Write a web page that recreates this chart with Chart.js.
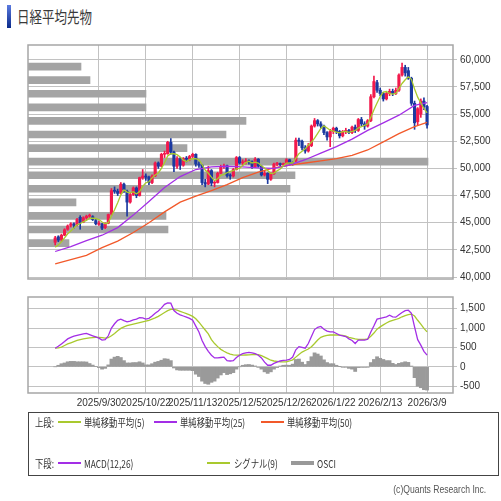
<!DOCTYPE html>
<html>
<head>
<meta charset="utf-8">
<title>日経平均先物</title>
<script src="https://cdn.jsdelivr.net/npm/chart.js@4.4.1/dist/chart.umd.min.js"></script>
<style>
  body { margin: 0; background: #fff; }
  #wrap { position: relative; width: 501px; height: 501px; overflow: hidden; font-family: "Noto Sans CJK JP", sans-serif; color: #333; }
  #wrap canvas { position: absolute; left: 0; }
  .mark { position: absolute; left: 7px; top: 5px; width: 4px; height: 23px; background: linear-gradient(#5b7be0, #0a2a8a); }
  .title { position: absolute; left: 17px; top: 3px; font-size: 16px; line-height: 26px; color: #3a3a3a; transform: scaleX(0.78); transform-origin: left center; white-space: nowrap; }
  .legend { position: absolute; left: 28px; top: 412px; width: 471px; height: 64px; box-sizing: border-box; border: 1.5px solid #444; }
  .lg { position: absolute; font-size: 11px; line-height: 14px; white-space: nowrap; transform: scaleX(0.76); transform-origin: left center; color: #333; }
  .sw { position: absolute; width: 23px; height: 2px; }
  .copy { position: absolute; right: 15px; top: 482px; font: 11px/14px "Liberation Sans", Arial, sans-serif; color: #555; white-space: nowrap; transform: scaleX(0.78); transform-origin: right center; }
</style>
</head>
<body>
<div id="wrap">
  <div class="mark"></div>
  <div class="title">日経平均先物</div>

  <canvas id="price" width="501" height="252" style="top:36px"></canvas>
  <canvas id="macd" width="501" height="125" style="top:288px"></canvas>

  <div class="legend"></div>
  <div class="lg" style="left:35px;top:415px">上段:</div>
  <div class="sw" style="left:58px;top:421px;background:#a9c92e"></div>
  <div class="lg" style="left:84px;top:415px">単純移動平均(5)</div>
  <div class="sw" style="left:154px;top:421px;background:#a32ee6"></div>
  <div class="lg" style="left:180px;top:415px">単純移動平均(25)</div>
  <div class="sw" style="left:261px;top:421px;background:#f2592a"></div>
  <div class="lg" style="left:287px;top:415px">単純移動平均(50)</div>

  <div class="lg" style="left:35px;top:456px">下段:</div>
  <div class="sw" style="left:58px;top:462px;background:#a32ee6"></div>
  <div class="lg" style="left:84px;top:456px">MACD(12,26)</div>
  <div class="sw" style="left:207px;top:462px;background:#a9c92e"></div>
  <div class="lg" style="left:234px;top:456px">シグナル(9)</div>
  <div class="sw" style="left:291px;top:461px;height:4px;background:#999"></div>
  <div class="lg" style="left:317px;top:456px">OSCI</div>

  <div class="copy">(c)Quants Research Inc.</div>
</div>

<script>
// 日足 index 0 = 2025/9/8 ... index 119 = 2026/3/9
const opens = [
  43200, 43700, 43450, 43850, 44400, 44750, 44900, 44800, 45500, 45050,
  45450, 45600, 45550, 45200, 44850, 44900, 44550, 44950, 45800, 47950,
  47900, 47700, 48550, 47900, 46900, 47600, 48200, 47500, 49150, 49300,
  49200, 48700, 49300, 50500, 50200, 51300, 51350, 52400, 51500, 50200,
  50900, 50300, 50900, 50850, 51100, 51300, 50400, 50300, 48700, 48550,
  49800, 48650, 48700, 49550, 50150, 50250, 49350, 49300, 49900, 51000,
  50500, 50600, 50650, 50600, 50150, 50850, 50200, 49400, 49550, 49000,
  49500, 50400, 50450, 50350, 50450, 50800, 50500, 50700, 52600, 52500,
  51900, 51600, 52100, 53900, 54400, 54100, 53900, 53300, 52900, 53400,
  53700, 53400, 53000, 53400, 53500, 53300, 53800, 53500, 54500, 54100,
  53900, 54400, 56600, 57900, 57200, 56900, 56400, 56900, 57100, 56900,
  57200, 58600, 59300, 59000, 58300, 56000, 54300, 55000, 56200, 55700
];
const highs = [
  43750, 43800, 43950, 44450, 44800, 45000, 45000, 45400, 45650, 45550,
  45700, 45800, 45650, 45300, 45150, 44950, 45000, 45800, 48150, 48300,
  48100, 48700, 48650, 48000, 47700, 48300, 48300, 49200, 49900, 49500,
  49300, 49400, 50600, 50600, 51400, 51600, 52500, 52750, 51600, 51100,
  51000, 51000, 51100, 51200, 51400, 51350, 50600, 50350, 49000, 50200,
  49900, 48900, 49650, 50300, 50400, 50300, 49500, 50000, 51100, 51100,
  50800, 50900, 50800, 50700, 51000, 50900, 50250, 49800, 49600, 49600,
  50500, 50550, 50500, 50500, 50900, 50850, 50600, 52800, 52800, 52600,
  52100, 52300, 54000, 54600, 54500, 54300, 54000, 53400, 53600, 53800,
  53800, 53500, 53500, 53700, 53600, 53900, 54000, 54600, 54700, 54300,
  54500, 56800, 58500, 58100, 57400, 57000, 57000, 57300, 57300, 57400,
  58700, 59700, 59500, 59300, 58400, 56200, 55600, 56400, 56500, 55800
];
const lows = [
  42950, 43250, 43300, 43800, 44300, 44600, 44500, 44700, 44400, 45000,
  45300, 45450, 45200, 44800, 44750, 44350, 44450, 44900, 45700, 47700,
  47500, 47650, 47800, 45600, 46800, 47500, 47300, 47450, 49000, 48900,
  48500, 48600, 49250, 50000, 50150, 51000, 51300, 51300, 49700, 50000,
  49900, 50200, 50600, 50700, 51000, 50200, 50100, 48500, 48300, 48500,
  48400, 48300, 48650, 49500, 50000, 49200, 49000, 49200, 49850, 50400,
  50300, 50400, 50400, 50000, 50100, 50100, 49300, 49300, 48600, 48900,
  49450, 50250, 50200, 50300, 50400, 50400, 50300, 50600, 52100, 51700,
  51400, 51500, 52000, 53800, 53900, 53700, 53100, 52600, 52000, 53200,
  53200, 52800, 52900, 53200, 53200, 53200, 53300, 53400, 53900, 53600,
  53800, 54300, 56500, 57000, 56700, 56200, 56300, 56700, 56700, 56800,
  57100, 58500, 58500, 58200, 55800, 53600, 54000, 54700, 55400, 53700
];
const closes = [
  43600, 43400, 43850, 44350, 44700, 44900, 44750, 45300, 45000, 45450,
  45600, 45700, 45300, 44900, 44950, 44500, 44900, 45750, 47950, 47900,
  47700, 48550, 48050, 46900, 47600, 48200, 47500, 49150, 49300, 49200,
  48700, 49300, 50500, 50200, 51300, 51350, 52400, 51500, 50200, 50900,
  50300, 50900, 50850, 51100, 51300, 50400, 50300, 48700, 48550, 49800,
  48650, 48700, 49550, 50150, 50250, 49350, 49300, 49900, 51000, 50500,
  50600, 50650, 50600, 50150, 50850, 50200, 49400, 49550, 49000, 49500,
  50400, 50450, 50350, 50450, 50800, 50500, 50400, 52600, 52500, 51900,
  51600, 52100, 53900, 54400, 54100, 53900, 53300, 52900, 53400, 53700,
  53400, 53000, 53400, 53500, 53300, 53800, 53500, 54500, 54100, 53900,
  54400, 56600, 58000, 57200, 56900, 56400, 56900, 57100, 56900, 57200,
  58600, 59300, 58800, 58300, 56000, 54200, 55500, 56200, 55700, 54000
];

// 5日線は終値から、最初の4本だけ図から読んだ値
const ma5Head = [42750, 42950, 43250, 43600];
// 25日線・50日線は図から読んだ値 (maIdx の位置)
const maIdx = [0, 5, 10, 15, 20, 25, 30, 35, 40, 45, 50, 55, 60, 65, 70, 75, 80, 85, 90, 95, 100, 105, 110, 115, 119];
const ma25 = [42350, 42800, 43350, 43850, 44550, 45700, 46950, 48250, 49250, 49900, 50150, 50200, 50150, 50050, 50000,
  50300, 50800, 51400, 52000, 52700, 53500, 54200, 54900, 55800, 56050];
const ma50 = [41200, 41600, 42000, 42700, 43300, 44100, 45000, 46000, 46900, 47450, 47950, 48500, 49150, 49650, 50050,
  50300, 50500, 50700, 50900, 51200, 51700, 52450, 53200, 53850, 54250];

// 価格帯別出来高 (1,250円刻みの中心値)
const profilePrice = [59375, 58125, 56875, 55625, 54375, 53125, 51875, 50625, 49375, 48125, 46875, 45625, 44375, 43125];
const profileVol = [53, 62, 118, 118, 218, 198, 159, 400, 267, 262, 48, 138, 140, 41];

// MACD / シグナル
const macd = [
  480, 530, 590, 650, 720, 760, 790, 810, 830, 850,
  860, 830, 800, 770, 740, 690, 700, 800, 1000, 1110,
  1200, 1230, 1190, 1160, 1180, 1210, 1230, 1270, 1260, 1230,
  1250, 1310, 1380, 1440, 1520, 1610, 1650, 1640, 1450, 1380,
  1340, 1310, 1280, 1250, 1200, 1050, 900, 680, 520, 400,
  300, 230, 230, 240, 250, 160, 150, 160, 240, 300,
  340, 360, 370, 360, 340, 300, 230, 120, 40, 40,
  90, 120, 150, 165, 175, 190, 250, 440, 520, 500,
  480, 600, 780, 960, 1020, 1040, 970, 920, 900, 900,
  860, 820, 800, 780, 720, 680, 600, 690, 690, 690,
  710, 900, 1060, 1230, 1250, 1270, 1290, 1330, 1290, 1280,
  1340, 1400, 1450, 1460, 1380, 1030, 700, 560, 400, 300
];
const signal = [
  480, 490, 510, 550, 590, 620, 650, 680, 700, 720,
  735, 745, 755, 760, 760, 750, 740, 750, 800, 860,
  930, 990, 1030, 1060, 1080, 1100, 1120, 1140, 1160, 1180,
  1200, 1230, 1260, 1300, 1350, 1400, 1450, 1480, 1480, 1460,
  1430, 1400, 1370, 1340, 1300, 1240, 1150, 1050, 950, 850,
  700, 600, 520, 450, 400, 360, 330, 310, 300, 300,
  300, 305, 310, 315, 318, 315, 290, 250, 210, 170,
  150, 140, 130, 125, 130, 150, 180, 250, 320, 380,
  420, 460, 520, 600, 690, 760, 790, 810, 820, 820,
  820, 815, 810, 790, 760, 740, 720, 710, 705, 705,
  720, 790, 870, 970, 1030, 1080, 1130, 1170, 1200, 1220,
  1250, 1290, 1320, 1345, 1360, 1310, 1200, 1100, 990, 900
];

// 目盛り
const gridIdx = [14, 29, 44, 59, 74, 89, 104, 119];
const dateLabels = ['2025/9/30', '2025/10/22', '2025/11/13', '2025/12/5', '2025/12/26', '2026/1/22', '2026/2/13', '2026/3/9'];
const priceTicks = [40000, 42500, 45000, 47500, 50000, 52500, 55000, 57500, 60000];
const macdTicks = [-500, 0, 500, 1000, 1500];

const UP = '#f2194c', DOWN = '#1b39a0';
const C_MA5 = '#a9c92e', C_MA25 = '#a32ee6', C_MA50 = '#f2592a';
const GRID = '#c2c2c2';
const X_MIN = -8.7, X_MAX = 127.3;

Chart.defaults.font.family = '"Liberation Sans", Arial, sans-serif';
Chart.defaults.font.size = 10;
Chart.defaults.color = '#333';

const idx = closes.map((c, i) => i);
const ma5 = idx.map(i => i < 4 ? ma5Head[i]
  : (closes[i - 4] + closes[i - 3] + closes[i - 2] + closes[i - 1] + closes[i]) / 5);
const candleColors = idx.map(i => closes[i] >= opens[i] ? UP : DOWN);

// 枠線
const frame = {
  id: 'frame',
  afterDatasetsDraw(chart) {
    const a = chart.chartArea, ctx = chart.ctx;
    ctx.save();
    ctx.strokeStyle = '#a6a6a6';
    ctx.lineWidth = 1.5;
    ctx.strokeRect(a.left, a.top, a.right - a.left, a.bottom - a.top);
    ctx.restore();
  }
};

function xScale(showLabels) {
  return {
    type: 'linear', min: X_MIN, max: X_MAX, offset: false,
    grid: { offset: false, color: GRID, drawTicks: false },
    border: { display: false },
    ticks: { display: showLabels, autoSkip: false, maxRotation: 0, minRotation: 0, padding: 4,
      callback: (v, i) => dateLabels[i] },
    afterBuildTicks: s => { s.ticks = gridIdx.map(v => ({ value: v })); },
    afterFit: s => { s.height = showLabels ? 20 : 0; }
  };
}

function yScale(min, max, tickList) {
  // offset を切らないと横棒 (価格帯別出来高) の既定値で上下に余白が入る
  return {
    type: 'linear', position: 'right', min: min, max: max, offset: false,
    grid: { offset: false, color: GRID, tickLength: 4 },
    border: { display: false },
    ticks: { padding: 3, callback: v => v.toLocaleString('en-US') },
    afterBuildTicks: s => { s.ticks = tickList.map(v => ({ value: v })); },
    afterFit: s => { s.width = 48; }
  };
}

function line(label, points, color, order) {
  return { type: 'line', label: label, data: points, xAxisID: 'x', yAxisID: 'y',
    borderColor: color, borderWidth: 1.3, pointRadius: 0, tension: 0, order: order };
}

// 上段: ローソク足 + 移動平均 + 価格帯別出来高
new Chart(document.getElementById('price'), {
  type: 'bar',
  data: {
    datasets: [
      { label: '価格帯別出来高', data: profilePrice.map((p, k) => ({ x: profileVol[k], y: p })),
        indexAxis: 'y', xAxisID: 'xv', yAxisID: 'y', backgroundColor: '#a4a4a4',
        barThickness: 7, grouped: false, order: 9 },
      { label: 'wick', data: idx.map(i => ({ x: i, y: [lows[i], highs[i]] })), xAxisID: 'x', yAxisID: 'y',
        backgroundColor: candleColors, barThickness: 1, grouped: false, order: 8 },
      { label: 'body', data: idx.map(i => ({ x: i, y: [opens[i], closes[i]] })), xAxisID: 'x', yAxisID: 'y',
        backgroundColor: candleColors, barThickness: 2.5, minBarLength: 1, grouped: false, order: 7 },
      line('単純移動平均(50)', maIdx.map((x, k) => ({ x: x, y: ma50[k] })), C_MA50, 3),
      line('単純移動平均(25)', maIdx.map((x, k) => ({ x: x, y: ma25[k] })), C_MA25, 2),
      line('単純移動平均(5)', idx.map(i => ({ x: i, y: ma5[i] })), C_MA5, 1)
    ]
  },
  options: {
    responsive: false, animation: false,
    layout: { padding: { left: 28, top: 6, right: 0, bottom: 9 } },
    plugins: { legend: { display: false }, tooltip: { enabled: false } },
    scales: {
      x: xScale(false),
      xv: { type: 'linear', display: false, min: 0, max: 425, offset: false },
      y: yScale(39818, 61364, priceTicks)
    }
  },
  plugins: [frame]
});

// 下段: MACD
new Chart(document.getElementById('macd'), {
  type: 'bar',
  data: {
    datasets: [
      { label: 'OSCI', data: idx.map(i => ({ x: i, y: macd[i] - signal[i] })), xAxisID: 'x', yAxisID: 'y',
        backgroundColor: '#9a9a9a', barPercentage: 1, categoryPercentage: 1, order: 5 },
      line('シグナル(9)', idx.map(i => ({ x: i, y: signal[i] })), C_MA5, 2),
      line('MACD(12,26)', idx.map(i => ({ x: i, y: macd[i] })), C_MA25, 1)
    ]
  },
  options: {
    responsive: false, animation: false,
    layout: { padding: { left: 28, top: 6, right: 0, bottom: 0 } },
    plugins: { legend: { display: false }, tooltip: { enabled: false } },
    scales: {
      x: xScale(true),
      y: yScale(-675, 1800, macdTicks)
    }
  },
  plugins: [frame]
});
</script>
</body>
</html>
